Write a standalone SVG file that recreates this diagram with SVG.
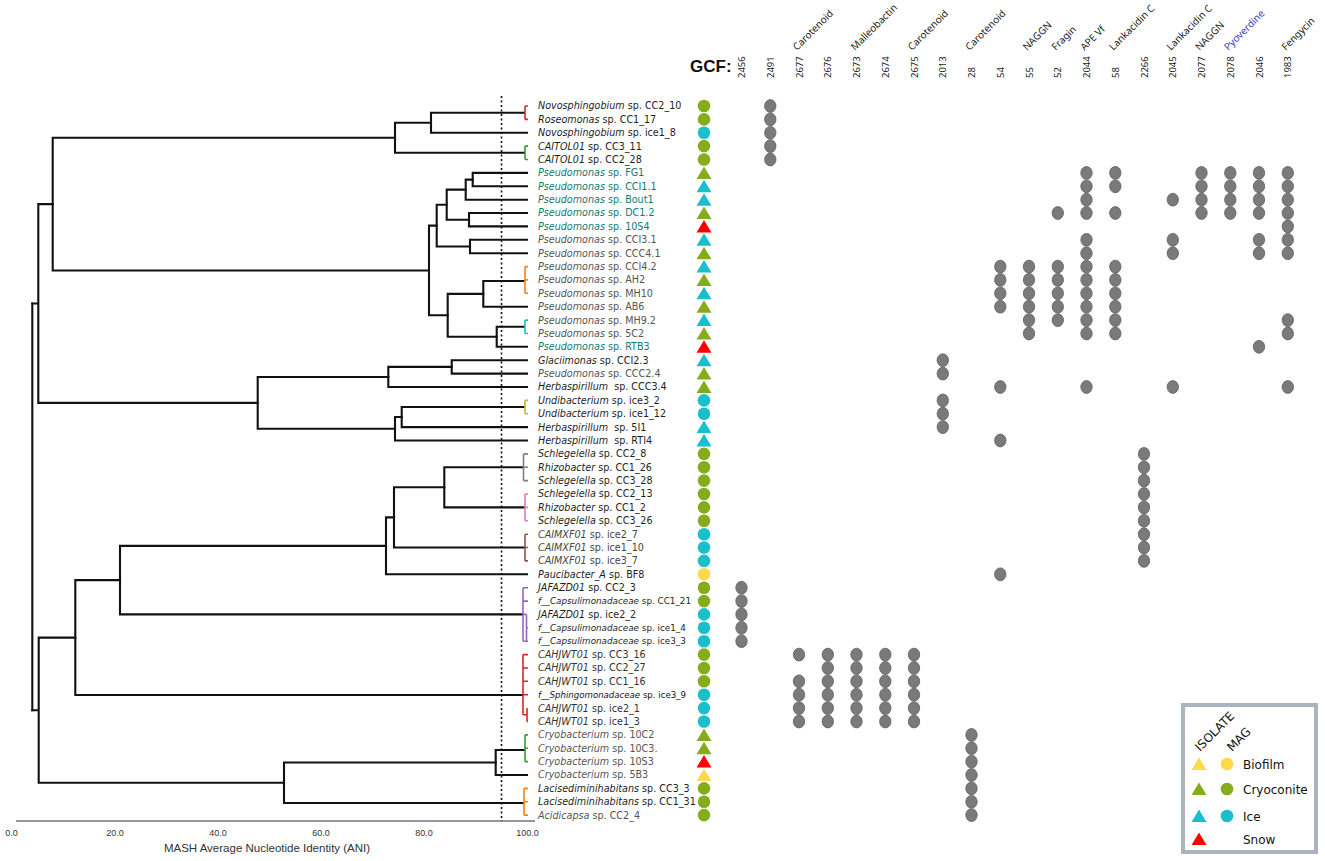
<svg xmlns="http://www.w3.org/2000/svg" xmlns:xlink="http://www.w3.org/1999/xlink" width="1325" height="861" viewBox="0 0 1325 861">
<style>
.tr{fill:none;stroke:#111;stroke-width:2.1;stroke-linecap:square}
.br{fill:none;stroke-width:1.6}
.lb{font-family:"DejaVu Sans",Verdana,sans-serif;font-size:9.6px;fill:#1e1e1e}
.lb tspan.g{font-style:italic}
.gy{fill:#555}
.tl{fill:#137a70}
.hd{font-family:"Noto Sans","Open Sans",sans-serif;font-size:9.5px;fill:#222}
.cp{font-family:"Noto Sans","Open Sans",sans-serif;font-size:10px;fill:#222}
.ax{font-family:"Liberation Sans",Arial,sans-serif;font-size:9px;fill:#333}
.dot{fill:#7a7a7a;stroke:#5f5f5f;stroke-width:0.8}
.cG{fill:#85ad1b}.cC{fill:#19bfca}.cR{fill:#ff0000}.cY{fill:#ffd84c}
.lg{font-family:"DejaVu Sans",Verdana,sans-serif;font-size:12px;fill:#111}
</style>
<defs>
<ellipse id="d" rx="5.7" ry="6.4"/>
<path id="tri" d="M0,-6.5 L7.5,6 L-7.5,6 Z"/>
<circle id="cir" r="6.3"/>
</defs>
<rect width="1325" height="861" fill="#fff"/>

<!-- tree connectors -->
<g id="connectors">
<path class="tr" d="M32.3,303.5 V710.2"/>
<path class="tr" d="M32.3,303.5 H38.3 M38.3,204.1 V402.9 M38.3,204.1 H52.7 M38.3,402.9 H257.7"/>
<path class="tr" d="M52.7,137.7 V270.5 M52.7,137.7 H395 M52.7,270.5 H429"/>
<path class="tr" d="M395,122.7 V152.8 M395,122.7 H431 M395,152.8 H524"/>
<path class="tr" d="M431,112.7 V132.8 M431,112.7 H524 M431,132.8 H527"/>
<path class="tr" d="M429,225.6 V315.3 M429,225.6 H436.7 M429,315.3 H447.7"/>
<path class="tr" d="M436.7,204.7 V246.5 M436.7,204.7 H446.7 M436.7,246.5 H470"/>
<path class="tr" d="M446.7,189.6 V219.7 M446.7,189.6 H465.7 M446.7,219.7 H469"/>
<path class="tr" d="M465.7,179.6 V199.7 M465.7,179.6 H472.7 M465.7,199.7 H527"/>
<path class="tr" d="M472.7,172.9 V186.3 M472.7,172.9 H527 M472.7,186.3 H527"/>
<path class="tr" d="M469,213 V226.4 M469,213 H527 M469,226.4 H527"/>
<path class="tr" d="M470,239.8 V253.2 M470,239.8 H527 M470,253.2 H527"/>
<path class="tr" d="M447.7,293.9 V336.8 M447.7,293.9 H483.3 M447.7,336.8 H496.7"/>
<path class="tr" d="M483.3,281 V306.7 M483.3,281 H524 M483.3,306.7 H527"/>
<path class="tr" d="M496.7,326.8 V346.8 M496.7,326.8 H524 M496.7,346.8 H527"/>
<path class="tr" d="M257.7,377 V428.8 M257.7,377 H388.3 M257.7,428.8 H395"/>
<path class="tr" d="M388.3,366.9 V387 M388.3,366.9 H451.7 M388.3,387 H527"/>
<path class="tr" d="M451.7,360.2 V373.6 M451.7,360.2 H527 M451.7,373.6 H527"/>
<path class="tr" d="M395,417 V440.5 M395,417 H401.7 M395,440.5 H527"/>
<path class="tr" d="M401.7,407 V427.1 M401.7,407 H524 M401.7,427.1 H527"/>
<path class="tr" d="M38.7,637.6 V782.7 M32.3,710.2 H38.7 M38.7,637.6 H75.3 M38.7,782.7 H284"/>
<path class="tr" d="M75.3,580.1 V695 M75.3,580.1 H120 M75.3,695 H522"/>
<path class="tr" d="M120,545.9 V614.4 M120,545.9 H386 M120,614.4 H522"/>
<path class="tr" d="M386,517.4 V574.3 M386,517.4 H394 M386,574.3 H527"/>
<path class="tr" d="M394,487.3 V547.5 M394,487.3 H444.3 M394,547.5 H524"/>
<path class="tr" d="M444.3,467.3 V507.4 M444.3,467.3 H523 M444.3,507.4 H524"/>
<path class="tr" d="M284,762.5 V803 M284,762.5 H495.7 M284,803 H523"/>
<path class="tr" d="M495.7,750 V775 M495.7,750 H524 M495.7,775 H527"/>
<!-- coloured clade brackets -->
<path class="br" stroke="#d62728" d="M525,106 V119.4 M525,106 H528 M525,119.4 H528"/>
<path class="br" stroke="#2ca02c" d="M525,146.1 V159.5 M525,146.1 H528 M525,159.5 H528"/>
<path class="br" stroke="#ff7f0e" d="M525,266.6 V293.3 M525,266.6 H528 M525,279.9 H528 M525,293.3 H528"/>
<path class="br" stroke="#17becf" d="M525,320.1 V333.5 M525,320.1 H528 M525,333.5 H528"/>
<path class="br" stroke="#bcbd22" d="M525,400.4 V413.7 M525,400.4 H528 M525,413.7 H528"/>
<path class="br" stroke="#7f7f7f" d="M523.5,453.9 V480.6 M523.5,453.9 H528 M523.5,467.3 H528 M523.5,480.6 H528"/>
<path class="br" stroke="#e377c2" d="M525,494 V520.8 M525,494 H528 M525,507.4 H528 M525,520.8 H528"/>
<path class="br" stroke="#8c564b" d="M525,534.2 V560.9 M525,534.2 H528 M525,547.5 H528 M525,560.9 H528"/>
<path class="br" stroke="#9467bd" d="M523,587.7 V641.2 M523,587.7 H528 M523,601.1 H528 M523,614.4 H526.5 M526.5,614.4 V641.2 M526.5,627.8 H528 M523,641.2 H528"/>
<path class="br" stroke="#d62728" d="M523,654.6 V714.8 M523,654.6 H528 M523,668 H528 M523,681.3 H528 M523,694.7 H528 M523,714.8 H527 M527,708.1 V721.5 M527,721.5 H528"/>
<path class="br" stroke="#2ca02c" d="M525,734.9 V761.6 M525,734.9 H528 M525,748.2 H528 M525,761.6 H528"/>
<path class="br" stroke="#ff7f0e" d="M524,788.4 V815.1 M524,788.4 H528 M524,801.8 H528 M524,815.1 H528"/>
</g>

<!-- cutoff line and axis -->
<line x1="501.5" y1="96" x2="501.5" y2="821" stroke="#111" stroke-width="1.6" stroke-dasharray="2,2.5"/>
<line x1="16" y1="821" x2="535" y2="821" stroke="#333" stroke-width="1.2"/>
<g class="ax" text-anchor="middle">
<text x="11.5" y="836">0.0</text>
<text x="115" y="836">20.0</text>
<text x="218" y="836">40.0</text>
<text x="321" y="836">60.0</text>
<text x="424" y="836">80.0</text>
<text x="527.5" y="836">100.0</text>
<text x="267" y="852" font-size="11.5">MASH Average Nucleotide Identity (ANI)</text>
</g>

<!-- leaf nodes: label + marker -->
<g id="n1"><text class="lb" x="538" y="109.4"><tspan class="g">Novosphingobium</tspan> sp. CC2_10</text><use href="#cir" class="cG" x="704" y="106"/></g>
<g id="n2"><text class="lb" x="538" y="122.8"><tspan class="g">Roseomonas</tspan> sp. CC1_17</text><use href="#cir" class="cG" x="704" y="119.4"/></g>
<g id="n3"><text class="lb" x="538" y="136.2"><tspan class="g">Novosphingobium</tspan> sp. ice1_8</text><use href="#cir" class="cC" x="704" y="132.8"/></g>
<g id="n4"><text class="lb" x="538" y="149.5"><tspan class="g">CAITOL01</tspan> sp. CC3_11</text><use href="#cir" class="cG" x="704" y="146.1"/></g>
<g id="n5"><text class="lb" x="538" y="162.9"><tspan class="g">CAITOL01</tspan> sp. CC2_28</text><use href="#cir" class="cG" x="704" y="159.5"/></g>
<g id="n6"><text class="lb tl" x="538" y="176.3"><tspan class="g">Pseudomonas</tspan> sp. FG1</text><use href="#tri" class="cG" x="704" y="172.9"/></g>
<g id="n7"><text class="lb tl" x="538" y="189.7"><tspan class="g">Pseudomonas</tspan> sp. CCI1.1</text><use href="#tri" class="cC" x="704" y="186.3"/></g>
<g id="n8"><text class="lb tl" x="538" y="203.1"><tspan class="g">Pseudomonas</tspan> sp. Bout1</text><use href="#tri" class="cC" x="704" y="199.7"/></g>
<g id="n9"><text class="lb tl" x="538" y="216.4"><tspan class="g">Pseudomonas</tspan> sp. DC1.2</text><use href="#tri" class="cG" x="704" y="213"/></g>
<g id="n10"><text class="lb tl" x="538" y="229.8"><tspan class="g">Pseudomonas</tspan> sp. 10S4</text><use href="#tri" class="cR" x="704" y="226.4"/></g>
<g id="n11"><text class="lb gy" x="538" y="243.2"><tspan class="g">Pseudomonas</tspan> sp. CCI3.1</text><use href="#tri" class="cC" x="704" y="239.8"/></g>
<g id="n12"><text class="lb gy" x="538" y="256.6"><tspan class="g">Pseudomonas</tspan> sp. CCC4.1</text><use href="#tri" class="cG" x="704" y="253.2"/></g>
<g id="n13"><text class="lb gy" x="538" y="270"><tspan class="g">Pseudomonas</tspan> sp. CCI4.2</text><use href="#tri" class="cC" x="704" y="266.6"/></g>
<g id="n14"><text class="lb gy" x="538" y="283.3"><tspan class="g">Pseudomonas</tspan> sp. AH2</text><use href="#tri" class="cG" x="704" y="279.9"/></g>
<g id="n15"><text class="lb gy" x="538" y="296.7"><tspan class="g">Pseudomonas</tspan> sp. MH10</text><use href="#tri" class="cC" x="704" y="293.3"/></g>
<g id="n16"><text class="lb gy" x="538" y="310.1"><tspan class="g">Pseudomonas</tspan> sp. AB6</text><use href="#tri" class="cG" x="704" y="306.7"/></g>
<g id="n17"><text class="lb gy" x="538" y="323.5"><tspan class="g">Pseudomonas</tspan> sp. MH9.2</text><use href="#tri" class="cC" x="704" y="320.1"/></g>
<g id="n18"><text class="lb gy" x="538" y="336.9"><tspan class="g">Pseudomonas</tspan> sp. 5C2</text><use href="#tri" class="cG" x="704" y="333.5"/></g>
<g id="n19"><text class="lb tl" x="538" y="350.2"><tspan class="g">Pseudomonas</tspan> sp. RTB3</text><use href="#tri" class="cR" x="704" y="346.8"/></g>
<g id="n20"><text class="lb" x="538" y="363.6"><tspan class="g">Glaciimonas</tspan> sp. CCI2.3</text><use href="#tri" class="cC" x="704" y="360.2"/></g>
<g id="n21"><text class="lb gy" x="538" y="377"><tspan class="g">Pseudomonas</tspan> sp. CCC2.4</text><use href="#tri" class="cG" x="704" y="373.6"/></g>
<g id="n22"><text class="lb" x="538" y="390.4"><tspan class="g">Herbaspirillum</tspan><tspan dx="6">sp. CCC3.4</tspan></text><use href="#tri" class="cG" x="704" y="387"/></g>
<g id="n23"><text class="lb" x="538" y="403.8"><tspan class="g">Undibacterium</tspan> sp. ice3_2</text><use href="#cir" class="cC" x="704" y="400.4"/></g>
<g id="n24"><text class="lb" x="538" y="417.1"><tspan class="g">Undibacterium</tspan> sp. ice1_12</text><use href="#cir" class="cC" x="704" y="413.7"/></g>
<g id="n25"><text class="lb" x="538" y="430.5"><tspan class="g">Herbaspirillum</tspan><tspan dx="6">sp. 5I1</tspan></text><use href="#tri" class="cC" x="704" y="427.1"/></g>
<g id="n26"><text class="lb" x="538" y="443.9"><tspan class="g">Herbaspirillum</tspan><tspan dx="6">sp. RTI4</tspan></text><use href="#tri" class="cC" x="704" y="440.5"/></g>
<g id="n27"><text class="lb" x="538" y="457.3"><tspan class="g">Schlegelella</tspan> sp. CC2_8</text><use href="#cir" class="cG" x="704" y="453.9"/></g>
<g id="n28"><text class="lb" x="538" y="470.7"><tspan class="g">Rhizobacter</tspan> sp. CC1_26</text><use href="#cir" class="cG" x="704" y="467.3"/></g>
<g id="n29"><text class="lb" x="538" y="484"><tspan class="g">Schlegelella</tspan> sp. CC3_28</text><use href="#cir" class="cG" x="704" y="480.6"/></g>
<g id="n30"><text class="lb" x="538" y="497.4"><tspan class="g">Schlegelella</tspan> sp. CC2_13</text><use href="#cir" class="cG" x="704" y="494"/></g>
<g id="n31"><text class="lb" x="538" y="510.8"><tspan class="g">Rhizobacter</tspan> sp. CC1_2</text><use href="#cir" class="cG" x="704" y="507.4"/></g>
<g id="n32"><text class="lb" x="538" y="524.2"><tspan class="g">Schlegelella</tspan> sp. CC3_26</text><use href="#cir" class="cG" x="704" y="520.8"/></g>
<g id="n33"><text class="lb" x="538" y="537.6" style="fill:#444"><tspan class="g">CAIMXF01</tspan> sp. ice2_7</text><use href="#cir" class="cC" x="704" y="534.2"/></g>
<g id="n34"><text class="lb" x="538" y="550.9" style="fill:#444"><tspan class="g">CAIMXF01</tspan> sp. ice1_10</text><use href="#cir" class="cC" x="704" y="547.5"/></g>
<g id="n35"><text class="lb" x="538" y="564.3" style="fill:#444"><tspan class="g">CAIMXF01</tspan> sp. ice3_7</text><use href="#cir" class="cC" x="704" y="560.9"/></g>
<g id="n36"><text class="lb" x="538" y="577.7"><tspan class="g">Paucibacter_A</tspan> sp. BF8</text><use href="#cir" class="cY" x="704" y="574.3"/></g>
<g id="n37"><text class="lb" x="538" y="591.1"><tspan class="g">JAFAZD01</tspan> sp. CC2_3</text><use href="#cir" class="cG" x="704" y="587.7"/></g>
<g id="n38"><text class="lb" x="538" y="604.3" style="font-size:8.8px"><tspan class="g">f__Capsulimonadaceae</tspan> sp. CC1_21</text><use href="#cir" class="cG" x="704" y="601.1"/></g>
<g id="n39"><text class="lb" x="538" y="617.8"><tspan class="g">JAFAZD01</tspan> sp. ice2_2</text><use href="#cir" class="cC" x="704" y="614.4"/></g>
<g id="n40"><text class="lb" x="538" y="631" style="font-size:8.8px"><tspan class="g">f__Capsulimonadaceae</tspan> sp. ice1_4</text><use href="#cir" class="cC" x="704" y="627.8"/></g>
<g id="n41"><text class="lb" x="538" y="644.4" style="font-size:8.8px"><tspan class="g">f__Capsulimonadaceae</tspan> sp. ice3_3</text><use href="#cir" class="cC" x="704" y="641.2"/></g>
<g id="n42"><text class="lb" x="538" y="658" style="fill:#333"><tspan class="g">CAHJWT01</tspan> sp. CC3_16</text><use href="#cir" class="cG" x="704" y="654.6"/></g>
<g id="n43"><text class="lb" x="538" y="671.4" style="fill:#333"><tspan class="g">CAHJWT01</tspan> sp. CC2_27</text><use href="#cir" class="cG" x="704" y="668"/></g>
<g id="n44"><text class="lb" x="538" y="684.7" style="fill:#333"><tspan class="g">CAHJWT01</tspan> sp. CC1_16</text><use href="#cir" class="cG" x="704" y="681.3"/></g>
<g id="n45"><text class="lb" x="538" y="697.8" style="font-size:8.6px;fill:#111"><tspan class="g">f__Sphingomonadaceae</tspan> sp. ice3_9</text><use href="#cir" class="cC" x="704" y="694.7"/></g>
<g id="n46"><text class="lb" x="538" y="711.5" style="fill:#333"><tspan class="g">CAHJWT01</tspan> sp. ice2_1</text><use href="#cir" class="cC" x="704" y="708.1"/></g>
<g id="n47"><text class="lb" x="538" y="724.9" style="fill:#333"><tspan class="g">CAHJWT01</tspan> sp. ice1_3</text><use href="#cir" class="cC" x="704" y="721.5"/></g>
<g id="n48"><text class="lb gy" x="538" y="738.3"><tspan class="g">Cryobacterium</tspan> sp. 10C2</text><use href="#tri" class="cG" x="704" y="734.9"/></g>
<g id="n49"><text class="lb gy" x="538" y="751.6"><tspan class="g">Cryobacterium</tspan> sp. 10C3.</text><use href="#tri" class="cG" x="704" y="748.2"/></g>
<g id="n50"><text class="lb gy" x="538" y="765"><tspan class="g">Cryobacterium</tspan> sp. 10S3</text><use href="#tri" class="cR" x="704" y="761.6"/></g>
<g id="n51"><text class="lb gy" x="538" y="778.4"><tspan class="g">Cryobacterium</tspan> sp. 5B3</text><use href="#tri" class="cY" x="704" y="775"/></g>
<g id="n52"><text class="lb" x="538" y="791.8"><tspan class="g">Lacisediminihabitans</tspan> sp. CC3_3</text><use href="#cir" class="cG" x="704" y="788.4"/></g>
<g id="n53"><text class="lb" x="538" y="805.2"><tspan class="g">Lacisediminihabitans</tspan> sp. CC1_31</text><use href="#cir" class="cG" x="704" y="801.8"/></g>
<g id="n54"><text class="lb gy" x="538" y="818.5"><tspan class="g">Acidicapsa</tspan> sp. CC2_4</text><use href="#cir" class="cG" x="704" y="815.1"/></g>

<!-- header -->
<text x="690" y="72" font-family="Liberation Sans,Arial,sans-serif" font-weight="bold" font-size="17" fill="#111">GCF:</text>
<g class="hd">
<text transform="translate(745,78) rotate(-90)">2456</text>
<text transform="translate(773.8,78) rotate(-90)">2491</text>
<text transform="translate(802.5,78) rotate(-90)">2677</text>
<text transform="translate(831.3,78) rotate(-90)">2676</text>
<text transform="translate(860,78) rotate(-90)">2673</text>
<text transform="translate(888.8,78) rotate(-90)">2674</text>
<text transform="translate(917.5,78) rotate(-90)">2675</text>
<text transform="translate(946.3,78) rotate(-90)">2013</text>
<text transform="translate(975,78) rotate(-90)">28</text>
<text transform="translate(1003.8,78) rotate(-90)">54</text>
<text transform="translate(1032.5,78) rotate(-90)">55</text>
<text transform="translate(1061.3,78) rotate(-90)">52</text>
<text transform="translate(1090,78) rotate(-90)">2044</text>
<text transform="translate(1118.8,78) rotate(-90)">58</text>
<text transform="translate(1147.5,78) rotate(-90)">2266</text>
<text transform="translate(1176.3,78) rotate(-90)">2045</text>
<text transform="translate(1205,78) rotate(-90)">2077</text>
<text transform="translate(1233.8,78) rotate(-90)">2078</text>
<text transform="translate(1262.5,78) rotate(-90)">2046</text>
<text transform="translate(1291.3,78) rotate(-90)">1983</text>
</g>
<g class="cp">
<text transform="translate(797,51) rotate(-45)">Carotenoid</text>
<text transform="translate(855,51) rotate(-45)">Malleobactin</text>
<text transform="translate(912,51) rotate(-45)">Carotenoid</text>
<text transform="translate(969.5,51) rotate(-45)">Carotenoid</text>
<text transform="translate(1027,51) rotate(-45)">NAGGN</text>
<text transform="translate(1055.8,51) rotate(-45)">Fragin</text>
<text transform="translate(1084.5,51) rotate(-45)">APE Vf</text>
<text transform="translate(1113.3,51) rotate(-45)">Lankacidin C</text>
<text transform="translate(1170.8,51) rotate(-45)">Lankacidin C</text>
<text transform="translate(1199.5,51) rotate(-45)">NAGGN</text>
<text transform="translate(1228.3,51) rotate(-45)" style="fill:#3b3bbf">Pyoverdine</text>
<text transform="translate(1285.8,51) rotate(-45)">Fengycin</text>
</g>

<!-- GCF presence dots -->
<g class="dot">
<use href="#d" x="770.3" y="106"/><use href="#d" x="770.3" y="119.4"/><use href="#d" x="770.3" y="132.8"/><use href="#d" x="770.3" y="146.1"/><use href="#d" x="770.3" y="159.5"/>
<use href="#d" x="1086.5" y="172.9"/><use href="#d" x="1115.3" y="172.9"/><use href="#d" x="1201.5" y="172.9"/><use href="#d" x="1230.3" y="172.9"/><use href="#d" x="1259" y="172.9"/><use href="#d" x="1287.8" y="172.9"/>
<use href="#d" x="1086.5" y="186.3"/><use href="#d" x="1115.3" y="186.3"/><use href="#d" x="1201.5" y="186.3"/><use href="#d" x="1230.3" y="186.3"/><use href="#d" x="1259" y="186.3"/><use href="#d" x="1287.8" y="186.3"/>
<use href="#d" x="1086.5" y="199.7"/><use href="#d" x="1172.8" y="199.7"/><use href="#d" x="1201.5" y="199.7"/><use href="#d" x="1230.3" y="199.7"/><use href="#d" x="1259" y="199.7"/><use href="#d" x="1287.8" y="199.7"/>
<use href="#d" x="1057.8" y="213"/><use href="#d" x="1086.5" y="213"/><use href="#d" x="1115.3" y="213"/><use href="#d" x="1201.5" y="213"/><use href="#d" x="1230.3" y="213"/><use href="#d" x="1259" y="213"/><use href="#d" x="1287.8" y="213"/>
<use href="#d" x="1287.8" y="226.4"/>
<use href="#d" x="1086.5" y="239.8"/><use href="#d" x="1172.8" y="239.8"/><use href="#d" x="1259" y="239.8"/><use href="#d" x="1287.8" y="239.8"/>
<use href="#d" x="1086.5" y="253.2"/><use href="#d" x="1172.8" y="253.2"/><use href="#d" x="1259" y="253.2"/><use href="#d" x="1287.8" y="253.2"/>
<use href="#d" x="1000.3" y="266.6"/><use href="#d" x="1029" y="266.6"/><use href="#d" x="1057.8" y="266.6"/><use href="#d" x="1086.5" y="266.6"/><use href="#d" x="1115.3" y="266.6"/>
<use href="#d" x="1000.3" y="279.9"/><use href="#d" x="1029" y="279.9"/><use href="#d" x="1057.8" y="279.9"/><use href="#d" x="1086.5" y="279.9"/><use href="#d" x="1115.3" y="279.9"/>
<use href="#d" x="1000.3" y="293.3"/><use href="#d" x="1029" y="293.3"/><use href="#d" x="1057.8" y="293.3"/><use href="#d" x="1086.5" y="293.3"/><use href="#d" x="1115.3" y="293.3"/>
<use href="#d" x="1000.3" y="306.7"/><use href="#d" x="1029" y="306.7"/><use href="#d" x="1057.8" y="306.7"/><use href="#d" x="1086.5" y="306.7"/><use href="#d" x="1115.3" y="306.7"/>
<use href="#d" x="1029" y="320.1"/><use href="#d" x="1057.8" y="320.1"/><use href="#d" x="1086.5" y="320.1"/><use href="#d" x="1115.3" y="320.1"/><use href="#d" x="1287.8" y="320.1"/>
<use href="#d" x="1029" y="333.5"/><use href="#d" x="1086.5" y="333.5"/><use href="#d" x="1115.3" y="333.5"/><use href="#d" x="1287.8" y="333.5"/>
<use href="#d" x="1259" y="346.8"/>
<use href="#d" x="942.8" y="360.2"/><use href="#d" x="942.8" y="373.6"/>
<use href="#d" x="1000.3" y="387"/><use href="#d" x="1086.5" y="387"/><use href="#d" x="1172.8" y="387"/><use href="#d" x="1287.8" y="387"/>
<use href="#d" x="942.8" y="400.4"/><use href="#d" x="942.8" y="413.7"/><use href="#d" x="942.8" y="427.1"/>
<use href="#d" x="1000.3" y="440.5"/>
<use href="#d" x="1144" y="453.9"/><use href="#d" x="1144" y="467.3"/><use href="#d" x="1144" y="480.6"/><use href="#d" x="1144" y="494"/><use href="#d" x="1144" y="507.4"/><use href="#d" x="1144" y="520.8"/><use href="#d" x="1144" y="534.2"/><use href="#d" x="1144" y="547.5"/><use href="#d" x="1144" y="560.9"/>
<use href="#d" x="1000.3" y="574.3"/>
<use href="#d" x="741.5" y="587.7"/><use href="#d" x="741.5" y="601.1"/><use href="#d" x="741.5" y="614.4"/><use href="#d" x="741.5" y="627.8"/><use href="#d" x="741.5" y="641.2"/>
<use href="#d" x="799" y="654.6"/><use href="#d" x="827.8" y="654.6"/><use href="#d" x="856.5" y="654.6"/><use href="#d" x="885.3" y="654.6"/><use href="#d" x="914" y="654.6"/>
<use href="#d" x="827.8" y="668"/><use href="#d" x="856.5" y="668"/><use href="#d" x="885.3" y="668"/><use href="#d" x="914" y="668"/>
<use href="#d" x="799" y="681.3"/><use href="#d" x="827.8" y="681.3"/><use href="#d" x="856.5" y="681.3"/><use href="#d" x="885.3" y="681.3"/><use href="#d" x="914" y="681.3"/>
<use href="#d" x="799" y="694.7"/><use href="#d" x="827.8" y="694.7"/><use href="#d" x="856.5" y="694.7"/><use href="#d" x="885.3" y="694.7"/><use href="#d" x="914" y="694.7"/>
<use href="#d" x="799" y="708.1"/><use href="#d" x="827.8" y="708.1"/><use href="#d" x="856.5" y="708.1"/><use href="#d" x="885.3" y="708.1"/><use href="#d" x="914" y="708.1"/>
<use href="#d" x="799" y="721.5"/><use href="#d" x="827.8" y="721.5"/><use href="#d" x="856.5" y="721.5"/><use href="#d" x="885.3" y="721.5"/><use href="#d" x="914" y="721.5"/>
<use href="#d" x="971.5" y="734.9"/><use href="#d" x="971.5" y="748.2"/><use href="#d" x="971.5" y="761.6"/><use href="#d" x="971.5" y="775"/><use href="#d" x="971.5" y="788.4"/><use href="#d" x="971.5" y="801.8"/><use href="#d" x="971.5" y="815.1"/>
</g>

<!-- legend -->
<g id="legend">
<rect x="1183" y="705" width="133" height="147" fill="#fff" stroke="#aab3bf" stroke-width="4"/>
<text class="lg" transform="translate(1200,752) rotate(-45)">ISOLATE</text>
<text class="lg" transform="translate(1232,752) rotate(-45)">MAG</text>
<use href="#tri" class="cY" x="1199" y="764"/><use href="#cir" class="cY" x="1227" y="764"/><text class="lg" x="1243" y="768.5">Biofilm</text>
<use href="#tri" class="cG" x="1199" y="789"/><use href="#cir" class="cG" x="1227" y="789"/><text class="lg" x="1243" y="793.5">Cryoconite</text>
<use href="#tri" class="cC" x="1199" y="816"/><use href="#cir" class="cC" x="1227" y="816"/><text class="lg" x="1243" y="820.5">Ice</text>
<use href="#tri" class="cR" x="1199" y="839"/><text class="lg" x="1243" y="843.5">Snow</text>
</g>
</svg>
